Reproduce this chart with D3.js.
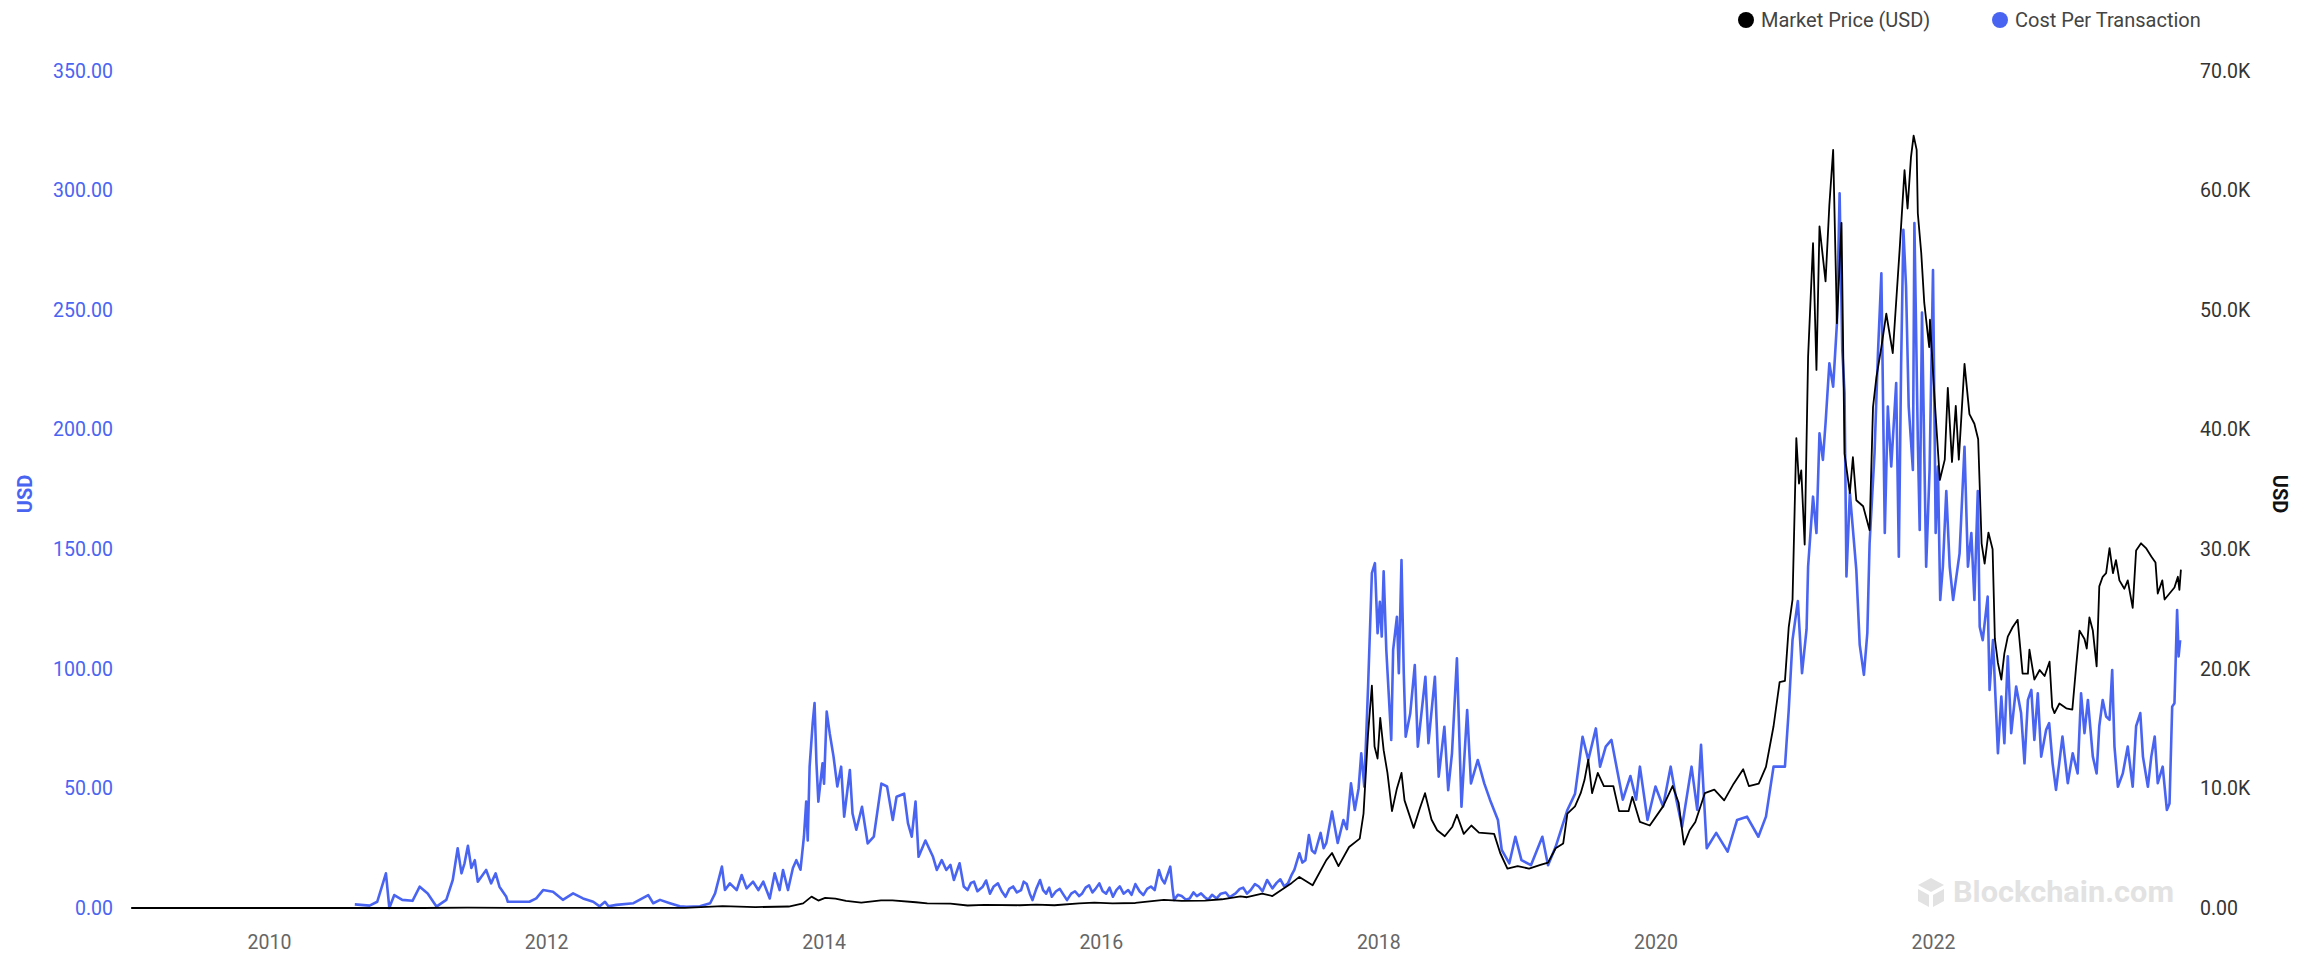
<!DOCTYPE html>
<html>
<head>
<meta charset="utf-8">
<script src="https://cdn.jsdelivr.net/npm/d3@7"></script>
<style>
  html, body { margin: 0; padding: 0; background: #fff; }
  #chart-area { width: 2315px; height: 953px; }
  text { font-family: Roboto, "Noto Sans", sans-serif; }
</style>
</head>
<body>
<div id="chart-area"></div>
<script>
// market price, USD
const pricePoints = [
  ['2009-01-03', 0], ['2010-07-17', 0], ['2011-02-10', 1], ['2011-06-08', 25], ['2011-11-18', 3],
  ['2012-06-01', 6], ['2012-12-31', 13], ['2013-04-10', 160], ['2013-07-05', 75], ['2013-10-01', 125],
  ['2013-11-08', 390], ['2013-11-30', 950], ['2013-12-18', 620], ['2014-01-05', 850], ['2014-02-01', 780],
  ['2014-03-01', 600], ['2014-04-10', 450], ['2014-06-01', 640], ['2014-07-01', 630], ['2014-09-01', 480],
  ['2014-10-01', 380], ['2014-12-01', 370], ['2015-01-15', 210], ['2015-03-01', 260], ['2015-06-01', 230],
  ['2015-07-15', 280], ['2015-09-01', 230], ['2015-11-05', 380], ['2015-12-15', 450], ['2016-02-01', 380],
  ['2016-04-01', 420], ['2016-06-15', 680], ['2016-08-01', 600], ['2016-10-01', 610], ['2016-11-15', 730],
  ['2017-01-03', 980], ['2017-01-20', 900], ['2017-03-01', 1200], ['2017-03-28', 1000], ['2017-05-18', 2100],
  ['2017-06-07', 2600], ['2017-07-12', 1900], ['2017-08-17', 4000], ['2017-09-01', 4600], ['2017-09-18', 3500],
  ['2017-10-16', 5100], ['2017-11-13', 5800], ['2017-11-23', 7900], ['2017-12-05', 14600], ['2017-12-15', 18600],
  ['2017-12-22', 13500], ['2017-12-30', 12500], ['2018-01-06', 15900], ['2018-01-15', 13200], ['2018-01-25', 11300],
  ['2018-02-06', 8100], ['2018-02-19', 10000], ['2018-03-03', 11300], ['2018-03-11', 9000], ['2018-04-04', 6700],
  ['2018-04-20', 8300], ['2018-05-04', 9600], ['2018-05-21', 7400], ['2018-06-05', 6500], ['2018-06-25', 6000],
  ['2018-07-15', 6800], ['2018-07-27', 7800], ['2018-08-14', 6200], ['2018-09-03', 6900], ['2018-09-23', 6300],
  ['2018-11-02', 6200], ['2018-11-18', 4600], ['2018-12-07', 3300], ['2019-01-03', 3500], ['2019-02-02', 3300],
  ['2019-03-04', 3600], ['2019-03-24', 3800], ['2019-04-13', 5000], ['2019-05-03', 5400], ['2019-05-14', 7900],
  ['2019-06-03', 8500], ['2019-06-18', 9600], ['2019-06-28', 10700], ['2019-07-08', 12400], ['2019-07-18', 9600],
  ['2019-08-02', 11300], ['2019-08-18', 10200], ['2019-09-12', 10200], ['2019-09-27', 8100], ['2019-10-22', 8100],
  ['2019-11-01', 9300], ['2019-11-21', 7200], ['2019-12-17', 6900], ['2020-01-21', 8500], ['2020-02-15', 10200],
  ['2020-03-02', 8800], ['2020-03-16', 5300], ['2020-03-31', 6500], ['2020-04-15', 7200], ['2020-05-10', 9600],
  ['2020-06-04', 9900], ['2020-06-30', 9000], ['2020-07-25', 10400], ['2020-08-19', 11600], ['2020-09-03', 10200],
  ['2020-09-29', 10400], ['2020-10-18', 11800], ['2020-11-07', 15200], ['2020-11-23', 18900], ['2020-12-07', 19000],
  ['2020-12-17', 23500], ['2020-12-27', 25800], ['2021-01-06', 39300], ['2021-01-13', 35500], ['2021-01-19', 36600],
  ['2021-01-28', 30400], ['2021-02-06', 46100], ['2021-02-19', 55600], ['2021-02-28', 45000], ['2021-03-08', 57000],
  ['2021-03-24', 52400], ['2021-04-03', 58800], ['2021-04-13', 63400], ['2021-04-23', 48900], ['2021-05-05', 57300],
  ['2021-05-13', 38000], ['2021-05-27', 34700], ['2021-06-04', 37700], ['2021-06-13', 34100], ['2021-07-01', 33600],
  ['2021-07-18', 31600], ['2021-07-27', 41900], ['2021-08-05', 44400], ['2021-08-18', 46900], ['2021-08-31', 49700],
  ['2021-09-17', 46400], ['2021-10-05', 55000], ['2021-10-18', 61700], ['2021-10-26', 58500], ['2021-11-04', 62800],
  ['2021-11-11', 64600], ['2021-11-19', 63400], ['2021-11-22', 58100], ['2021-12-01', 54800], ['2021-12-09', 50600],
  ['2021-12-22', 46900], ['2021-12-24', 49200], ['2022-01-05', 42700], ['2022-01-19', 35800], ['2022-02-01', 37500],
  ['2022-02-09', 43500], ['2022-02-20', 37300], ['2022-03-02', 42000], ['2022-03-10', 37500], ['2022-03-25', 45500],
  ['2022-04-07', 41300], ['2022-04-20', 40500], ['2022-04-30', 39200], ['2022-05-09', 30500], ['2022-05-17', 28800],
  ['2022-05-27', 31400], ['2022-06-07', 30000], ['2022-06-13', 22500], ['2022-06-21', 20500], ['2022-06-30', 19100],
  ['2022-07-08', 21300], ['2022-07-17', 22700], ['2022-07-30', 23500], ['2022-08-12', 24100], ['2022-08-25', 19600],
  ['2022-09-08', 19600], ['2022-09-12', 21600], ['2022-09-25', 19100], ['2022-10-09', 19900], ['2022-10-22', 19400],
  ['2022-11-04', 20600], ['2022-11-11', 16800], ['2022-11-17', 16300], ['2022-11-30', 17100], ['2022-12-18', 16700],
  ['2023-01-03', 16600], ['2023-01-13', 20200], ['2023-01-22', 23200], ['2023-02-04', 22500], ['2023-02-10', 21700],
  ['2023-02-17', 24300], ['2023-02-26', 23200], ['2023-03-08', 20200], ['2023-03-15', 26900], ['2023-03-24', 27700],
  ['2023-04-02', 28000], ['2023-04-11', 30100], ['2023-04-20', 28000], ['2023-04-28', 29100], ['2023-05-07', 27400],
  ['2023-05-20', 26700], ['2023-05-29', 27400], ['2023-06-11', 25100], ['2023-06-20', 29900], ['2023-07-03', 30500],
  ['2023-07-16', 30100], ['2023-07-30', 29400], ['2023-08-10', 28900], ['2023-08-16', 26300], ['2023-08-28', 27400],
  ['2023-09-03', 25800], ['2023-09-16', 26300], ['2023-09-29', 26800], ['2023-10-08', 27700], ['2023-10-12', 26600],
  ['2023-10-16', 28300],
];

// cost per transaction, USD (left axis)
const costPoints = [
  ['2010-08-15', 1.5], ['2010-09-23', 1.0], ['2010-10-13', 2.6], ['2010-11-05', 14.5], ['2010-11-14', 0],
  ['2010-11-27', 5.4], ['2010-12-18', 3.4], ['2011-01-14', 3.0], ['2011-02-02', 8.9], ['2011-02-23', 6.1],
  ['2011-03-18', 0.6], ['2011-04-13', 3.4], ['2011-04-30', 11.7], ['2011-05-13', 25], ['2011-05-23', 14.5],
  ['2011-05-31', 18.7], ['2011-06-09', 26], ['2011-06-18', 16.7], ['2011-06-27', 20], ['2011-07-05', 11],
  ['2011-07-27', 15.9], ['2011-08-09', 10.3], ['2011-08-21', 14.5], ['2011-08-31', 8.9], ['2011-09-18', 4.7],
  ['2011-09-22', 2.6], ['2011-10-23', 2.6], ['2011-11-18', 2.6], ['2011-12-06', 4], ['2011-12-24', 7.5],
  ['2012-01-19', 6.8], ['2012-02-14', 3.4], ['2012-03-12', 6.1], ['2012-04-07', 4], ['2012-05-04', 2.6],
  ['2012-05-21', 0.7], ['2012-06-04', 2.6], ['2012-06-13', 0.7], ['2012-07-04', 1.3], ['2012-08-18', 2],
  ['2012-09-26', 5.4], ['2012-10-09', 2], ['2012-10-27', 3.4], ['2012-11-22', 2], ['2012-12-18', 0.7],
  ['2013-01-05', 0.5], ['2013-02-09', 0.7], ['2013-03-08', 2], ['2013-03-21', 6.1], ['2013-04-08', 17.3],
  ['2013-04-16', 7.5], ['2013-04-29', 10.3], ['2013-05-17', 7.5], ['2013-05-30', 13.8], ['2013-06-12', 8.2],
  ['2013-06-29', 11], ['2013-07-13', 7.5], ['2013-07-26', 11], ['2013-08-12', 4], ['2013-08-25', 14.5],
  ['2013-09-07', 7.5], ['2013-09-16', 15.9], ['2013-09-29', 7.5], ['2013-10-12', 16.7], ['2013-10-21', 20],
  ['2013-11-01', 16], ['2013-11-10', 29.8], ['2013-11-16', 44.5], ['2013-11-20', 28.2], ['2013-11-25', 59.1],
  ['2013-12-03', 77.2], ['2013-12-08', 85.7], ['2013-12-13', 60.5], ['2013-12-18', 44.5], ['2013-12-29', 60.5],
  ['2014-01-02', 52], ['2014-01-09', 82.1], ['2014-01-17', 73], ['2014-01-27', 63.3], ['2014-02-06', 50.8],
  ['2014-02-16', 59.1], ['2014-02-24', 38.2], ['2014-03-11', 57.7], ['2014-03-18', 39.5], ['2014-03-28', 32.7],
  ['2014-04-12', 42.3], ['2014-04-27', 27], ['2014-05-13', 29.8], ['2014-06-02', 52], ['2014-06-17', 50.8],
  ['2014-07-02', 36.8], ['2014-07-12', 46.5], ['2014-08-01', 47.8], ['2014-08-11', 35.5], ['2014-08-21', 29.8],
  ['2014-08-31', 44.5], ['2014-09-08', 21.4], ['2014-09-26', 28.2], ['2014-10-16', 21.4], ['2014-10-26', 15.9],
  ['2014-11-08', 20], ['2014-11-20', 15.9], ['2014-12-01', 18], ['2014-12-10', 11.7], ['2014-12-25', 18.7],
  ['2015-01-05', 9], ['2015-01-15', 7.5], ['2015-01-24', 10.5], ['2015-02-01', 11], ['2015-02-10', 7],
  ['2015-02-24', 8.9], ['2015-03-05', 11.5], ['2015-03-15', 6], ['2015-03-25', 9], ['2015-04-05', 10.3],
  ['2015-04-15', 7], ['2015-04-25', 4.7], ['2015-05-05', 8], ['2015-05-15', 9], ['2015-05-25', 6.5],
  ['2015-06-05', 7.5], ['2015-06-12', 11], ['2015-06-20', 10], ['2015-06-28', 6], ['2015-07-05', 3.3],
  ['2015-07-15', 8], ['2015-07-25', 11.7], ['2015-08-02', 7.5], ['2015-08-10', 6], ['2015-08-18', 8.5],
  ['2015-08-25', 4.7], ['2015-09-05', 7], ['2015-09-15', 8], ['2015-09-25', 5.5], ['2015-10-04', 3.3],
  ['2015-10-15', 6], ['2015-10-25', 7], ['2015-11-05', 5], ['2015-11-13', 6.1], ['2015-11-22', 8.5],
  ['2015-12-01', 9.5], ['2015-12-10', 6.5], ['2015-12-18', 8], ['2015-12-28', 10.3], ['2016-01-06', 7],
  ['2016-01-15', 6], ['2016-01-24', 8.5], ['2016-02-02', 4.7], ['2016-02-11', 7.5], ['2016-02-20', 9],
  ['2016-03-01', 6], ['2016-03-13', 7.5], ['2016-03-22', 5.5], ['2016-04-01', 10], ['2016-04-12', 7],
  ['2016-04-22', 5.4], ['2016-05-02', 8], ['2016-05-12', 9], ['2016-05-22', 7.5], ['2016-06-02', 15.9],
  ['2016-06-10', 12], ['2016-06-17', 10.3], ['2016-06-25', 14], ['2016-07-02', 17.3], ['2016-07-08', 8],
  ['2016-07-12', 3.3], ['2016-07-22', 5.5], ['2016-08-01', 5], ['2016-08-12', 3.5], ['2016-08-22', 4],
  ['2016-09-01', 6.5], ['2016-09-10', 5], ['2016-09-21', 6.1], ['2016-10-01', 4.5], ['2016-10-10', 3.5],
  ['2016-10-20', 5.5], ['2016-11-01', 4], ['2016-11-12', 6], ['2016-11-25', 6.5], ['2016-12-05', 4.5],
  ['2016-12-21', 6.1], ['2017-01-01', 8], ['2017-01-10', 8.5], ['2017-01-20', 6], ['2017-01-30', 7.5],
  ['2017-02-10', 10], ['2017-02-20', 9], ['2017-03-02', 7], ['2017-03-14', 11.7], ['2017-03-28', 8.2],
  ['2017-04-08', 10.5], ['2017-04-18', 12], ['2017-04-28', 9], ['2017-05-08', 10.3], ['2017-05-18', 14],
  ['2017-05-25', 16], ['2017-06-07', 22.9], ['2017-06-15', 19], ['2017-06-23', 20], ['2017-07-02', 30.5],
  ['2017-07-10', 24], ['2017-07-18', 22.9], ['2017-08-02', 31.4], ['2017-08-10', 25], ['2017-08-17', 27.2],
  ['2017-09-01', 40.3], ['2017-09-16', 27.2], ['2017-10-01', 36.8], ['2017-10-10', 33], ['2017-10-21', 52.1],
  ['2017-10-31', 41], ['2017-11-10', 50], ['2017-11-17', 64.7], ['2017-11-25', 50.8], ['2017-12-05', 92.6],
  ['2017-12-15', 140], ['2017-12-23', 144.2], ['2017-12-30', 114.9], ['2018-01-05', 128], ['2018-01-10', 113.5],
  ['2018-01-15', 140.8], ['2018-01-22', 107.9], ['2018-02-04', 70.3], ['2018-02-09', 107.9], ['2018-02-19', 121.8],
  ['2018-02-24', 98.2], ['2018-03-03', 145.5], ['2018-03-09', 98.2], ['2018-03-14', 71.6], ['2018-03-26', 81.3],
  ['2018-04-07', 101.6], ['2018-04-15', 67.5], ['2018-05-05', 96.7], ['2018-05-13', 68.9], ['2018-05-30', 96.7],
  ['2018-06-09', 54.9], ['2018-06-24', 75.8], ['2018-07-04', 49.3], ['2018-07-14', 64.7], ['2018-07-27', 104.4],
  ['2018-08-08', 42.4], ['2018-08-23', 82.8], ['2018-09-02', 52.1], ['2018-09-20', 61.9], ['2018-10-07', 52.1],
  ['2018-10-22', 45.3], ['2018-11-12', 36.8], ['2018-11-22', 24.3], ['2018-12-12', 18.7], ['2018-12-28', 29.8],
  ['2019-01-13', 20], ['2019-02-07', 17.9], ['2019-03-09', 29.8], ['2019-03-24', 17.9], ['2019-04-13', 25.6],
  ['2019-05-14', 41], ['2019-06-03', 47.7], ['2019-06-23', 71.6], ['2019-07-08', 61.9], ['2019-07-28', 75.1],
  ['2019-08-08', 59.1], ['2019-08-23', 67.5], ['2019-09-07', 70.3], ['2019-09-22', 57.7], ['2019-10-07', 45.3],
  ['2019-10-27', 55.2], ['2019-11-11', 45.3], ['2019-11-21', 59.1], ['2019-12-11', 36.8], ['2020-01-01', 50.8],
  ['2020-01-21', 42.4], ['2020-02-10', 59.1], ['2020-02-25', 45.3], ['2020-03-11', 34], ['2020-04-05', 59.1],
  ['2020-04-20', 41], ['2020-04-30', 68.2], ['2020-05-15', 25], ['2020-06-09', 31.4], ['2020-07-09', 23.6],
  ['2020-08-03', 36.8], ['2020-08-29', 38.2], ['2020-09-28', 29.8], ['2020-10-18', 38.2], ['2020-11-07', 59.1],
  ['2020-12-07', 59.1], ['2020-12-17', 82.8], ['2020-12-27', 112.1], ['2021-01-10', 128.4], ['2021-01-21', 98.2],
  ['2021-02-02', 116.6], ['2021-02-06', 142.7], ['2021-02-19', 172], ['2021-02-28', 156.8], ['2021-03-08', 198.5],
  ['2021-03-17', 187.4], ['2021-03-24', 202.8], ['2021-04-03', 227.8], ['2021-04-13', 218], ['2021-04-23', 244.6],
  ['2021-04-30', 298.9], ['2021-05-07', 233.4], ['2021-05-13', 215.4], ['2021-05-18', 138.6], ['2021-05-27', 173.6],
  ['2021-06-13', 141.4], ['2021-06-22', 110], ['2021-07-03', 97.5], ['2021-07-12', 115], ['2021-07-18', 152.6],
  ['2021-07-31', 190.2], ['2021-08-09', 232], ['2021-08-18', 265.4], ['2021-08-27', 156.8], ['2021-09-04', 209.7],
  ['2021-09-13', 184.6], ['2021-09-26', 219.5], ['2021-10-03', 146.9], ['2021-10-09', 226.8], ['2021-10-15', 283.6],
  ['2021-10-22', 259.9], ['2021-10-29', 209.7], ['2021-11-09', 183.2], ['2021-11-13', 286.4], ['2021-11-22', 195.7],
  ['2021-11-27', 158.1], ['2021-12-03', 249], ['2021-12-14', 142.7], ['2021-12-23', 183.2], ['2022-01-01', 266.8],
  ['2022-01-08', 156.8], ['2022-01-14', 184.6], ['2022-01-20', 128.8], ['2022-01-27', 142.7], ['2022-02-05', 174.4],
  ['2022-02-14', 142.7], ['2022-02-23', 128.8], ['2022-03-12', 148.3], ['2022-03-25', 192.9], ['2022-04-03', 142.7],
  ['2022-04-12', 156.8], ['2022-04-20', 128.8], ['2022-04-29', 174.4], ['2022-05-04', 117.6], ['2022-05-12', 112],
  ['2022-05-25', 130.2], ['2022-05-30', 91.2], ['2022-06-08', 112], ['2022-06-21', 64.7], ['2022-06-30', 88.4],
  ['2022-07-08', 68.9], ['2022-07-17', 105.2], ['2022-07-26', 73.1], ['2022-08-08', 92.6], ['2022-08-21', 81.5],
  ['2022-08-30', 60.5], ['2022-09-08', 87], ['2022-09-17', 91.2], ['2022-09-25', 70.3], ['2022-10-04', 89.8],
  ['2022-10-13', 63.3], ['2022-10-26', 74.5], ['2022-11-03', 77.3], ['2022-11-12', 60.5], ['2022-11-21', 49.4],
  ['2022-12-08', 71.7], ['2022-12-22', 52.2], ['2023-01-04', 64.7], ['2023-01-17', 56.3], ['2023-01-26', 89.8],
  ['2023-02-04', 73.1], ['2023-02-13', 87], ['2023-02-26', 63.3], ['2023-03-08', 56.3], ['2023-03-15', 76],
  ['2023-03-24', 87], ['2023-04-02', 80.1], ['2023-04-11', 78.7], ['2023-04-18', 99.5], ['2023-04-24', 67.5],
  ['2023-05-03', 50.7], ['2023-05-16', 56.3], ['2023-05-29', 67.5], ['2023-06-11', 50.7], ['2023-06-20', 76],
  ['2023-07-01', 81.5], ['2023-07-08', 63.3], ['2023-07-21', 50.7], ['2023-07-30', 63.3], ['2023-08-08', 71.7],
  ['2023-08-16', 52.2], ['2023-08-29', 59.1], ['2023-09-09', 41], ['2023-09-16', 43.7], ['2023-09-23', 84.2],
  ['2023-09-29', 85.6], ['2023-10-06', 124.6], ['2023-10-10', 105.2], ['2023-10-14', 112],
];

const costTicks = [0, 50, 100, 150, 200, 250, 300, 350];
const priceTicks = [0, 10000, 20000, 30000, 40000, 50000, 60000, 70000];
const yearTicks = ['2010', '2012', '2014', '2016', '2018', '2020', '2022'];
const seriesNames = ['Market Price (USD)', 'Cost Per Transaction'];
const seriesColors = ['#000000', '#4a64f2'];

const W = 2315;
const H = 953;

const chartArea = d3.select('#chart-area');
const svg = chartArea.append('svg')
  .attr('width', W)
  .attr('height', H);

const parseDate = d3.utcParse('%Y-%m-%d');
const parseYear = d3.utcParse('%Y');

// the x positions of the 2010 and 2022 labels pin the time scale
const x = d3.scaleUtc()
  .domain([parseYear('2010'), parseYear('2022')])
  .range([269, 1933]);

const yCost = d3.scaleLinear().domain([0, 350]).range([908, 71]);
const yPrice = d3.scaleLinear().domain([0, 70000]).range([908, 71]);

const price = pricePoints.map(([d, v]) => ({ date: parseDate(d), value: v }));
const cost = costPoints.map(([d, v]) => ({ date: parseDate(d), value: v }));

function drawAxes() {
  const leftAxis = d3.axisLeft(yCost)
    .tickValues(costTicks)
    .tickFormat(d3.format('.2f'))
    .tickSize(0)
    .tickPadding(0);

  const rightAxis = d3.axisRight(yPrice)
    .tickValues(priceTicks)
    .tickFormat((d) => d === 0 ? '0.00' : (d / 1000).toFixed(1) + 'K')
    .tickSize(0)
    .tickPadding(0);

  const bottomAxis = d3.axisBottom(x)
    .tickValues(yearTicks.map(parseYear))
    .tickFormat(d3.utcFormat('%Y'))
    .tickSize(0)
    .tickPadding(0);

  const gl = svg.append('g').attr('transform', 'translate(113,0)').call(leftAxis);
  const gr = svg.append('g').attr('transform', 'translate(2200,0)').call(rightAxis);
  const gb = svg.append('g').attr('transform', 'translate(0,935)').call(bottomAxis);

  [gl, gr, gb].forEach((g) => {
    g.select('.domain').remove();
    g.selectAll('text').attr('font-family', 'Roboto, sans-serif').attr('font-size', 19.5);
  });
  gl.selectAll('text').attr('fill', seriesColors[1]);
  gr.selectAll('text').attr('fill', '#333');
  gb.selectAll('text').attr('fill', '#666');

  svg.append('text')
    .attr('transform', 'translate(25,494) rotate(-90)')
    .attr('text-anchor', 'middle')
    .attr('dy', '0.35em')
    .attr('font-size', 20)
    .attr('font-weight', 'bold')
    .attr('fill', seriesColors[1])
    .text('USD');

  svg.append('text')
    .attr('transform', 'translate(2280,494) rotate(90)')
    .attr('text-anchor', 'middle')
    .attr('dy', '0.35em')
    .attr('font-size', 20)
    .attr('font-weight', 'bold')
    .attr('fill', '#111')
    .text('USD');
}

function drawWatermark() {
  const wm = svg.append('g').attr('transform', 'translate(1918,892)');
  const grey = '#e2e2e2';
  wm.append('path')
    .attr('d', 'M13,-14 L26,-7 L13,0 L0,-7 Z')
    .attr('fill', grey);
  wm.append('path')
    .attr('d', 'M0,-3 L11,3 L11,15 L0,9 Z')
    .attr('fill', grey);
  wm.append('path')
    .attr('d', 'M26,-3 L15,3 L15,15 L26,9 Z')
    .attr('fill', grey);
  wm.append('text')
    .attr('x', 35)
    .attr('dy', '0.36em')
    .attr('font-size', 29)
    .attr('font-weight', 'bold')
    .attr('textLength', 221)
    .attr('lengthAdjust', 'spacingAndGlyphs')
    .attr('fill', grey)
    .text('Blockchain.com');
}

function drawLines() {
  const costLine = d3.line()
    .x((d) => x(d.date))
    .y((d) => yCost(d.value));
  const priceLine = d3.line()
    .x((d) => x(d.date))
    .y((d) => yPrice(d.value));

  svg.append('path')
    .datum(cost)
    .attr('d', costLine)
    .attr('fill', 'none')
    .attr('stroke', seriesColors[1])
    .attr('stroke-width', 2.6)
    .attr('stroke-linejoin', 'round');

  svg.append('path')
    .datum(price)
    .attr('d', priceLine)
    .attr('fill', 'none')
    .attr('stroke', seriesColors[0])
    .attr('stroke-width', 1.8)
    .attr('stroke-linejoin', 'round');
}

function drawLegend() {
  const legendX = [1746, 2000];
  const items = svg.append('g').selectAll('g')
    .data(seriesNames)
    .enter()
    .append('g')
    .attr('transform', (d, i) => `translate(${legendX[i]},20)`);

  items.append('circle')
    .attr('r', 8)
    .attr('fill', (d, i) => seriesColors[i]);

  items.append('text')
    .attr('x', 15)
    .attr('dy', '0.35em')
    .attr('font-size', 20)
    .attr('fill', '#444')
    .text((d) => d);
}

drawWatermark();
drawAxes();
drawLines();
drawLegend();
</script>
</body>
</html>
